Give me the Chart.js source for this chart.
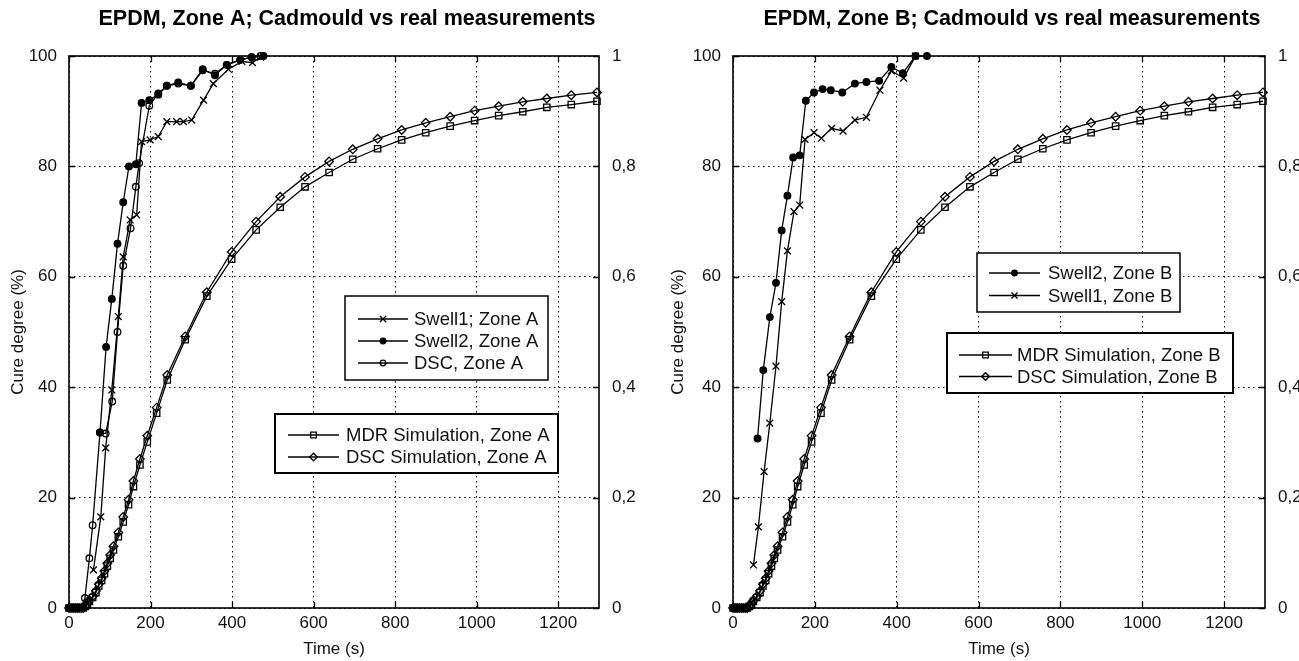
<!DOCTYPE html>
<html>
<head>
<meta charset="utf-8">
<script src="https://cdn.jsdelivr.net/npm/chart.js@4.4.1/dist/chart.umd.min.js"></script>
<style>
  html, body { margin: 0; padding: 0; background: #fff; overflow: hidden; }
  .pane { position: absolute; top: 0; height: 661px; }
  #paneA { left: 0; width: 660px; }
  #paneB { left: 660px; width: 650px; }
</style>
</head>
<body>
<div class="pane" id="paneA"><canvas id="chartA" width="660" height="661"></canvas></div>
<div class="pane" id="paneB"><canvas id="chartB" width="650" height="661"></canvas></div>
<script>
// axis ticks
const xTicks = [0, 200, 400, 600, 800, 1000, 1200];
const yTicks = [0, 20, 40, 60, 80, 100];
const y2Ticks = [0, 0.2, 0.4, 0.6, 0.8, 1];

// Cadmould simulation (same in both zones)
const simTime = [0, 5, 10, 15, 20, 25, 30, 35, 40, 45, 50, 58, 66, 73, 80, 87, 94, 101, 109, 121, 133, 146, 158, 174, 192, 215, 241, 285, 338, 399, 459, 518, 579, 638, 696, 757, 816, 875, 935, 995, 1054, 1113, 1172, 1232, 1295];
const mdrSim = [0, 0, 0, 0, 0, 0, 0, 0, 0.3, 0.6, 1.2, 1.9, 2.8, 4.0, 5.0, 6.2, 7.6, 9.0, 10.5, 12.9, 15.6, 18.7, 22.0, 25.9, 30.1, 35.3, 41.3, 48.6, 56.5, 63.2, 68.5, 72.6, 76.3, 78.9, 81.3, 83.2, 84.8, 86.1, 87.3, 88.3, 89.2, 89.9, 90.7, 91.2, 91.8];
const dscSim = [0, 0, 0, 0, 0, 0, 0, 0, 0.4, 0.8, 1.4, 2.1, 3.1, 4.3, 5.4, 6.7, 8.1, 9.6, 11.2, 13.7, 16.5, 19.6, 23.0, 27.0, 31.2, 36.3, 42.2, 49.2, 57.2, 64.5, 70.0, 74.5, 78.1, 80.9, 83.1, 85.0, 86.6, 87.9, 89.0, 90.1, 90.9, 91.7, 92.3, 92.9, 93.4];

// Zone A measurements
const swell1ATime = [60, 78, 90, 105, 121, 133, 150, 166, 178, 199, 219, 240, 264, 281, 301, 330, 354, 391, 424, 450, 470];
const swell1AValue = [6.9, 16.5, 29, 39.5, 52.8, 63.6, 70.3, 71.2, 84.5, 84.8, 85.4, 88.1, 88.1, 88.1, 88.4, 92, 95, 97.6, 99, 98.8, 99.8];
const swell2ATime = [76, 91, 105, 119, 133, 147, 164, 178, 197, 219, 240, 268, 299, 328, 358, 387, 420, 448, 477];
const swell2AValue = [31.8, 47.3, 56, 66, 73.5, 80, 80.4, 91.5, 92, 93, 94.6, 95.2, 94.6, 97.6, 96.5, 98.4, 99.3, 99.8, 100];
const dscATime = [0, 10, 20, 30, 39, 50, 58, 76, 90, 106, 119, 133, 151, 164, 172, 197, 219, 240, 268, 299, 328, 358, 387, 420, 448, 470];
const dscAValue = [0, 0, 0, 0, 1.8, 9, 15, 31.8, 31.6, 37.4, 50, 62, 68.8, 76.3, 80.6, 91, 93.2, 94.6, 95, 94.6, 97.4, 96.8, 98.4, 99.3, 99.8, 100];

// Zone B measurements
const swell2BTime = [60, 74, 90, 105, 119, 133, 147, 163, 178, 198, 219, 239, 267, 298, 326, 357, 387, 415, 446, 474];
const swell2BValue = [30.7, 43.1, 52.7, 58.9, 68.4, 74.7, 81.6, 82, 91.9, 93.4, 94, 93.8, 93.4, 95, 95.3, 95.5, 98, 96.9, 100, 100];
const swell1BTime = [50, 62, 76, 90, 105, 119, 133, 149, 163, 176, 198, 216, 241, 269, 298, 326, 359, 387, 417, 446];
const swell1BValue = [7.8, 14.7, 24.7, 33.5, 43.8, 55.5, 64.7, 71.8, 73, 84.9, 86.1, 85.1, 86.9, 86.4, 88.4, 88.9, 93.8, 97.3, 96, 100];

const FONT = "'Liberation Sans', Arial, sans-serif";
const OPEN = "rgba(0,0,0,0)";

const markerStyles = {
    swell1: { pointStyle: "crossRot", pointRadius: 4.8, pointBackgroundColor: OPEN },
    swell2: { pointStyle: "circle", pointRadius: 3.3, pointBackgroundColor: "#000" },
    dsc: { pointStyle: "circle", pointRadius: 3.3, pointBackgroundColor: OPEN },
    mdrSim: { pointStyle: "rect", pointRadius: 4.5, pointBackgroundColor: OPEN },
    dscSim: { pointStyle: "rectRot", pointRadius: 4.3, pointBackgroundColor: OPEN },
};

function series(label, kind, xs, ys) {
    return Object.assign({
        label: label,
        data: xs.map((x, i) => ({ x: x, y: ys[i] })),
        showLine: true,
        clip: 8,
        borderColor: "#000",
        borderWidth: 1.3,
        pointBorderColor: "#000",
        pointBorderWidth: 1.3,
        tension: 0,
    }, markerStyles[kind]);
}

// frame, inward ticks, title and the in-plot legend boxes
const matlabLook = {
    id: "matlabLook",
    afterDatasetsDraw(chart, args, opts) {
        const ctx = chart.ctx;
        const a = chart.chartArea;
        const sx = chart.scales.x, sy = chart.scales.y, sy2 = chart.scales.y2;
        ctx.save();
        ctx.strokeStyle = "#000";
        ctx.lineWidth = 1.3;
        ctx.beginPath();
        sx.ticks.forEach((t) => {
            const px = Math.round(sx.getPixelForValue(t.value)) + 0.5;
            ctx.moveTo(px, a.bottom); ctx.lineTo(px, a.bottom - 6);
            ctx.moveTo(px, a.top); ctx.lineTo(px, a.top + 6);
        });
        sy.ticks.forEach((t) => {
            const py = Math.round(sy.getPixelForValue(t.value)) + 0.5;
            ctx.moveTo(a.left, py); ctx.lineTo(a.left + 6, py);
        });
        sy2.ticks.forEach((t) => {
            const py = Math.round(sy2.getPixelForValue(t.value)) + 0.5;
            ctx.moveTo(a.right, py); ctx.lineTo(a.right - 6, py);
        });
        ctx.stroke();
        ctx.lineWidth = 1.6;
        ctx.strokeRect(a.left, a.top, a.right - a.left, a.bottom - a.top);

        // legends
        opts.boxes.forEach((b) => {
            ctx.fillStyle = "#fff";
            ctx.fillRect(b.left, b.top, b.right - b.left, b.bottom - b.top);
            ctx.lineWidth = b.border;
            ctx.strokeStyle = "#000";
            ctx.strokeRect(b.left, b.top, b.right - b.left, b.bottom - b.top);
            b.items.forEach((dsIndex, row) => {
                const ds = chart.data.datasets[dsIndex];
                const y = b.rowY + row * b.rowGap;
                ctx.lineWidth = 1.3;
                ctx.beginPath();
                ctx.moveTo(b.lineFrom, y);
                ctx.lineTo(b.lineTo, y);
                ctx.stroke();
                ctx.fillStyle = ds.pointBackgroundColor;
                Chart.helpers.drawPoint(ctx, {
                    pointStyle: ds.pointStyle,
                    radius: ds.pointRadius - 0.5,
                    rotation: 0,
                    borderWidth: 1.3,
                }, (b.lineFrom + b.lineTo) / 2, y);
                ctx.fillStyle = "#111";
                ctx.font = "18.5px " + FONT;
                ctx.textBaseline = "middle";
                ctx.textAlign = "left";
                ctx.fillText(ds.label, b.textX, y + 1);
            });
        });

        ctx.fillStyle = "#000";
        ctx.font = "bold 21.5px " + FONT;
        ctx.textAlign = "center";
        ctx.textBaseline = "middle";
        ctx.fillText(opts.title, (a.left + a.right) / 2 + 13, 19);
        ctx.restore();
    },
};

function makeChart(canvasId, title, datasets, boxes, widths) {
    const tickFont = { family: FONT, size: 17 };
    return new Chart(document.getElementById(canvasId), {
        type: "scatter",
        data: { datasets: datasets },
        options: {
            responsive: false,
            animation: false,
            events: [],
            layout: { padding: { top: 56, left: 0, right: 0, bottom: 0 } },
            scales: {
                x: {
                    type: "linear",
                    min: 0,
                    max: 1300,
                    afterBuildTicks: (s) => { s.ticks = xTicks.map((v) => ({ value: v })); },
                    afterFit: (s) => { s.height = 53; },
                    ticks: { font: tickFont, color: "#111", padding: 5, maxRotation: 0, callback: (v) => String(v) },
                    grid: { color: "#000", lineWidth: 1, drawTicks: false },
                    border: { display: false, dash: [1.5, 3.5] },
                    title: { display: true, text: "Time (s)", font: tickFont, color: "#111", padding: { top: 0, bottom: 1 } },
                },
                y: {
                    type: "linear",
                    position: "left",
                    min: 0,
                    max: 100,
                    afterBuildTicks: (s) => { s.ticks = yTicks.map((v) => ({ value: v })); },
                    afterFit: (s) => { s.width = widths.left; },
                    ticks: { font: tickFont, color: "#111", padding: 12, callback: (v) => String(v) },
                    grid: { color: "#000", lineWidth: 1, drawTicks: false },
                    border: { display: false, dash: [1.5, 3.5] },
                    title: { display: true, text: "Cure degree (%)", font: tickFont, color: "#111", padding: { top: 8, bottom: 0 } },
                },
                y2: {
                    type: "linear",
                    position: "right",
                    min: 0,
                    max: 1,
                    afterBuildTicks: (s) => { s.ticks = y2Ticks.map((v) => ({ value: v })); },
                    afterFit: (s) => { s.width = widths.right; },
                    ticks: {
                        font: tickFont,
                        color: "#111",
                        padding: 13,
                        callback: (v) => String(v).replace(".", ","),
                    },
                    grid: { drawOnChartArea: false, drawTicks: false },
                    border: { display: false },
                },
            },
            plugins: {
                legend: { display: false },
                tooltip: { enabled: false },
                title: { display: false },
                matlabLook: { title: title, boxes: boxes },
            },
        },
        plugins: [matlabLook],
    });
}

makeChart("chartA", "EPDM, Zone A; Cadmould vs real measurements", [
    series("Swell1; Zone A", "swell1", swell1ATime, swell1AValue),
    series("Swell2, Zone A", "swell2", swell2ATime, swell2AValue),
    series("DSC, Zone A", "dsc", dscATime, dscAValue),
    series("MDR Simulation, Zone A", "mdrSim", simTime, mdrSim),
    series("DSC Simulation, Zone A", "dscSim", simTime, dscSim),
], [
    { left: 345, top: 296, right: 548, bottom: 380, border: 1.5, items: [0, 1, 2], rowY: 319, rowGap: 22, lineFrom: 358, lineTo: 408, textX: 414 },
    { left: 275, top: 414, right: 558, bottom: 473, border: 2, items: [3, 4], rowY: 435, rowGap: 22, lineFrom: 288, lineTo: 339, textX: 346 },
], { left: 69, right: 61 });

makeChart("chartB", "EPDM, Zone B; Cadmould vs real measurements", [
    series("Swell2, Zone B", "swell2", swell2BTime, swell2BValue),
    series("Swell1, Zone B", "swell1", swell1BTime, swell1BValue),
    series("MDR Simulation, Zone B", "mdrSim", simTime, mdrSim),
    series("DSC Simulation, Zone B", "dscSim", simTime, dscSim),
], [
    { left: 317, top: 253, right: 520, bottom: 312, border: 1.5, items: [0, 1], rowY: 273, rowGap: 22.5, lineFrom: 329, lineTo: 380, textX: 388 },
    { left: 287, top: 333, right: 573, bottom: 393, border: 2, items: [2, 3], rowY: 355, rowGap: 21.5, lineFrom: 299, lineTo: 352, textX: 357 },
], { left: 73, right: 45 });
</script>
</body>
</html>
